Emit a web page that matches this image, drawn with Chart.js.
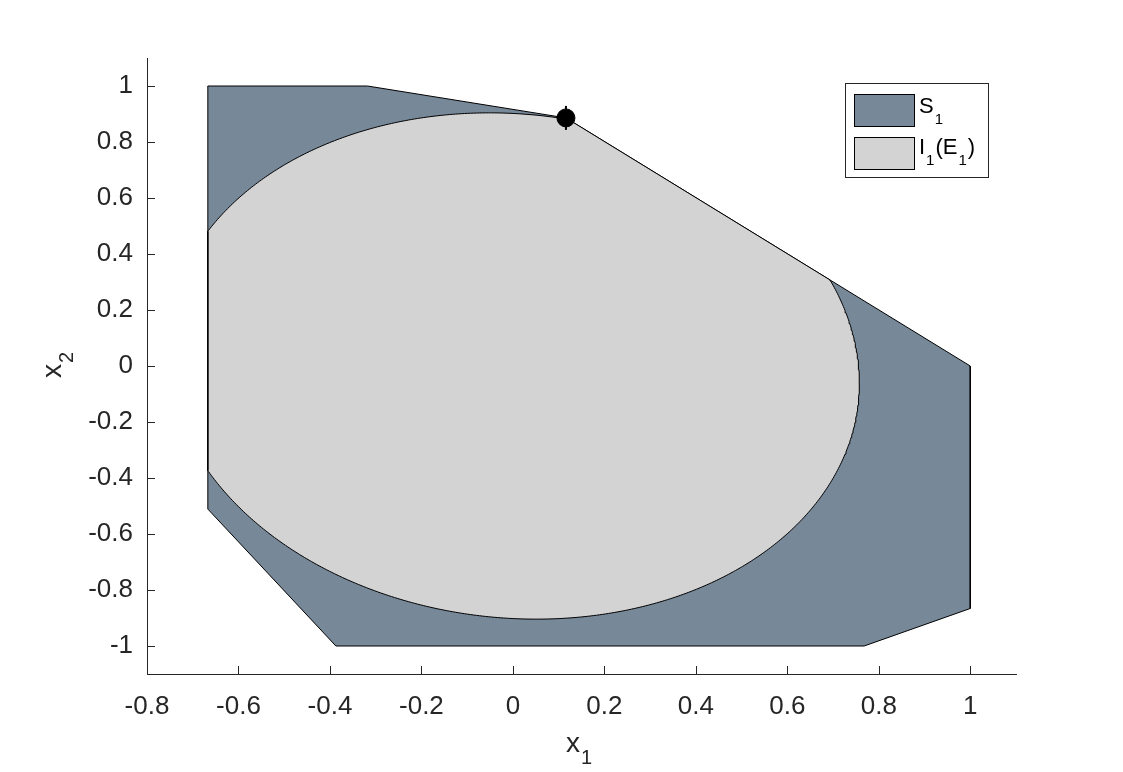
<!DOCTYPE html>
<html>
<head>
<meta charset="utf-8">
<script src="https://cdn.jsdelivr.net/npm/chart.js@4.4.1/dist/chart.umd.min.js"></script>
<style>
  html, body { margin: 0; padding: 0; background: #fff; }
  #wrap { width: 1123px; height: 772px; }
</style>
</head>
<body>
<div id="wrap"><canvas id="chartS" width="1123" height="772"></canvas></div>
<script>
// polygon S_1, vertices clockwise (x1, x2)
const polyX = [-0.667, -0.318, 0.116, 1.0, 1.0, 0.768, -0.387, -0.667];
const polyY = [1.0, 1.0, 0.886, 0.0, -0.866, -1.0, -1.0, -0.511];

// ellipse E_1: centre and the two half-axis vectors
const ellCentre = [0.0, 0.0];
const ellU = [0.7575, -0.061];
const ellV = [0.0, 0.902];

// marked point
const dotX = [0.116];
const dotY = [0.886];

const xTicks = [-0.8, -0.6, -0.4, -0.2, 0, 0.2, 0.4, 0.6, 0.8, 1];
const xTickLabels = ["-0.8", "-0.6", "-0.4", "-0.2", "0", "0.2", "0.4", "0.6", "0.8", "1"];
const yTicks = [-1, -0.8, -0.6, -0.4, -0.2, 0, 0.2, 0.4, 0.6, 0.8, 1];
const yTickLabels = ["-1", "-0.8", "-0.6", "-0.4", "-0.2", "0", "0.2", "0.4", "0.6", "0.8", "1"];

const colS = "#778899";
const colI = "#d3d3d3";
const axisCol = "#262626";

function polyPoints() {
  const pts = [];
  for (let i = 0; i < polyX.length; i++) pts.push({ x: polyX[i], y: polyY[i] });
  return pts;
}

function ellipsePoints(n) {
  const pts = [];
  for (let i = 0; i < n; i++) {
    const t = (2 * Math.PI * i) / n;
    pts.push({
      x: ellCentre[0] + ellU[0] * Math.cos(t) + ellV[0] * Math.sin(t),
      y: ellCentre[1] + ellU[1] * Math.cos(t) + ellV[1] * Math.sin(t)
    });
  }
  return pts;
}

// I_1(E_1) = E_1 cut by S_1 (S_1 is convex)
function clipToPoly(pts) {
  let out = pts;
  const n = polyX.length;
  for (let i = 0; i < n; i++) {
    const ax = polyX[i], ay = polyY[i];
    const bx = polyX[(i + 1) % n], by = polyY[(i + 1) % n];
    const side = function (p) {
      return (bx - ax) * (p.y - ay) - (by - ay) * (p.x - ax);
    };
    const inp = out;
    out = [];
    for (let j = 0; j < inp.length; j++) {
      const cur = inp[j];
      const prev = inp[(j + inp.length - 1) % inp.length];
      const sc = side(cur), sp = side(prev);
      if (sc <= 0) {
        if (sp > 0) out.push(cross(prev, cur, sp, sc));
        out.push(cur);
      } else if (sp <= 0) {
        out.push(cross(prev, cur, sp, sc));
      }
    }
  }
  return out;
}

function cross(p, q, sp, sq) {
  const t = sp / (sp - sq);
  return { x: p.x + t * (q.x - p.x), y: p.y + t * (q.y - p.y) };
}

const sPts = polyPoints();
sPts.push(sPts[0]);
const iPts = clipToPoly(ellipsePoints(720));
iPts.push(iPts[0]);

// inward ticks, axis titles and legend
const extras = {
  id: "extras",
  afterDraw: function (chart) {
    const ctx = chart.ctx;
    const xs = chart.scales.x, ys = chart.scales.y;
    const a = chart.chartArea;
    ctx.save();
    ctx.strokeStyle = axisCol;
    ctx.lineWidth = 1;
    ctx.beginPath();
    for (let i = 0; i < xTicks.length; i++) {
      const px = Math.round(xs.getPixelForValue(xTicks[i])) + 0.5;
      ctx.moveTo(px, a.bottom);
      ctx.lineTo(px, a.bottom - 8);
    }
    for (let i = 0; i < yTicks.length; i++) {
      const py = Math.round(ys.getPixelForValue(yTicks[i])) + 0.5;
      ctx.moveTo(a.left, py);
      ctx.lineTo(a.left + 8, py);
    }
    ctx.stroke();

    // axis titles
    ctx.fillStyle = axisCol;
    ctx.textBaseline = "alphabetic";
    ctx.textAlign = "left";
    ctx.font = "28px 'Liberation Sans', Arial, sans-serif";
    ctx.fillText("x", 566, 752);
    ctx.font = "20px 'Liberation Sans', Arial, sans-serif";
    ctx.fillText("1", 581, 764);

    ctx.save();
    ctx.translate(61, 378);
    ctx.rotate(-Math.PI / 2);
    ctx.font = "28px 'Liberation Sans', Arial, sans-serif";
    ctx.fillText("x", 0, 0);
    ctx.font = "20px 'Liberation Sans', Arial, sans-serif";
    ctx.fillText("2", 15, 12);
    ctx.restore();

    // legend
    ctx.fillStyle = "#fff";
    ctx.fillRect(845.5, 83.5, 143, 94);
    ctx.strokeStyle = axisCol;
    ctx.strokeRect(845.5, 83.5, 143, 94);
    ctx.strokeStyle = "#000";
    ctx.fillStyle = colS;
    ctx.fillRect(854.5, 94.5, 60, 32);
    ctx.strokeRect(854.5, 94.5, 60, 32);
    ctx.fillStyle = colI;
    ctx.fillRect(854.5, 137.5, 60, 32);
    ctx.strokeRect(854.5, 137.5, 60, 32);

    ctx.fillStyle = "#000";
    const big = "22px 'Liberation Sans', Arial, sans-serif";
    const small = "15px 'Liberation Sans', Arial, sans-serif";
    drawRuns(ctx, 919, 113, [["S", 0], ["1", 1]], big, small);
    drawRuns(ctx, 919, 154, [["I", 0], ["1", 1], ["(E", 0], ["1", 1], [")", 0]], big, small);
    ctx.restore();
  }
};

function drawRuns(ctx, x, y, runs, big, small) {
  for (let i = 0; i < runs.length; i++) {
    const sub = runs[i][1] === 1;
    ctx.font = sub ? small : big;
    ctx.fillText(runs[i][0], x + (sub ? 1 : 0), sub ? y + 11 : y);
    x += ctx.measureText(runs[i][0]).width + (sub ? 2 : 0);
  }
}

new Chart(document.getElementById("chartS"), {
  type: "scatter",
  data: {
    datasets: [
      {
        label: "point",
        data: [{ x: dotX[0], y: dotY[0] }],
        pointRadius: 9,
        pointStyle: "circle",
        backgroundColor: "#000",
        borderColor: "#000",
        order: 0
      },
      {
        label: "point spike",
        data: [{ x: dotX[0], y: dotY[0] }],
        pointRadius: 12,
        pointStyle: "line",
        rotation: 90,
        borderColor: "#000",
        borderWidth: 2,
        order: 0
      },
      {
        label: "I1(E1)",
        data: iPts,
        showLine: true,
        fill: "shape",
        backgroundColor: colI,
        borderColor: "#000",
        borderWidth: 1,
        pointRadius: 0,
        tension: 0,
        order: 1
      },
      {
        label: "S1",
        data: sPts,
        showLine: true,
        fill: "shape",
        backgroundColor: colS,
        borderColor: "#000",
        borderWidth: 1,
        pointRadius: 0,
        tension: 0,
        order: 2
      }
    ]
  },
  options: {
    responsive: false,
    animation: false,
    devicePixelRatio: 1,
    layout: { padding: { left: 0, top: 58, right: 107, bottom: 0 } },
    plugins: {
      legend: { display: false },
      tooltip: { enabled: false }
    },
    scales: {
      x: {
        type: "linear",
        min: -0.8,
        max: 1.1,
        afterFit: function (s) { s.height = 98; },
        afterBuildTicks: function (s) {
          s.ticks = xTicks.map(function (v) { return { value: v }; });
        },
        ticks: {
          color: axisCol,
          padding: 17,
          maxRotation: 0,
          font: { family: "'Liberation Sans', Arial, sans-serif", size: 26 },
          callback: function (v) {
            const k = xTicks.indexOf(v);
            return k >= 0 ? xTickLabels[k] : "";
          }
        },
        grid: { drawOnChartArea: false, drawTicks: false },
        border: { display: true, color: axisCol, width: 1 }
      },
      y: {
        type: "linear",
        min: -1.1,
        max: 1.1,
        afterFit: function (s) { s.width = 147; },
        afterBuildTicks: function (s) {
          s.ticks = yTicks.map(function (v) { return { value: v }; });
        },
        ticks: {
          color: axisCol,
          padding: 14,
          font: { family: "'Liberation Sans', Arial, sans-serif", size: 26 },
          callback: function (v) {
            const k = yTicks.indexOf(v);
            return k >= 0 ? yTickLabels[k] : "";
          }
        },
        grid: { drawOnChartArea: false, drawTicks: false },
        border: { display: true, color: axisCol, width: 1 }
      }
    }
  },
  plugins: [extras]
});
</script>
</body>
</html>
